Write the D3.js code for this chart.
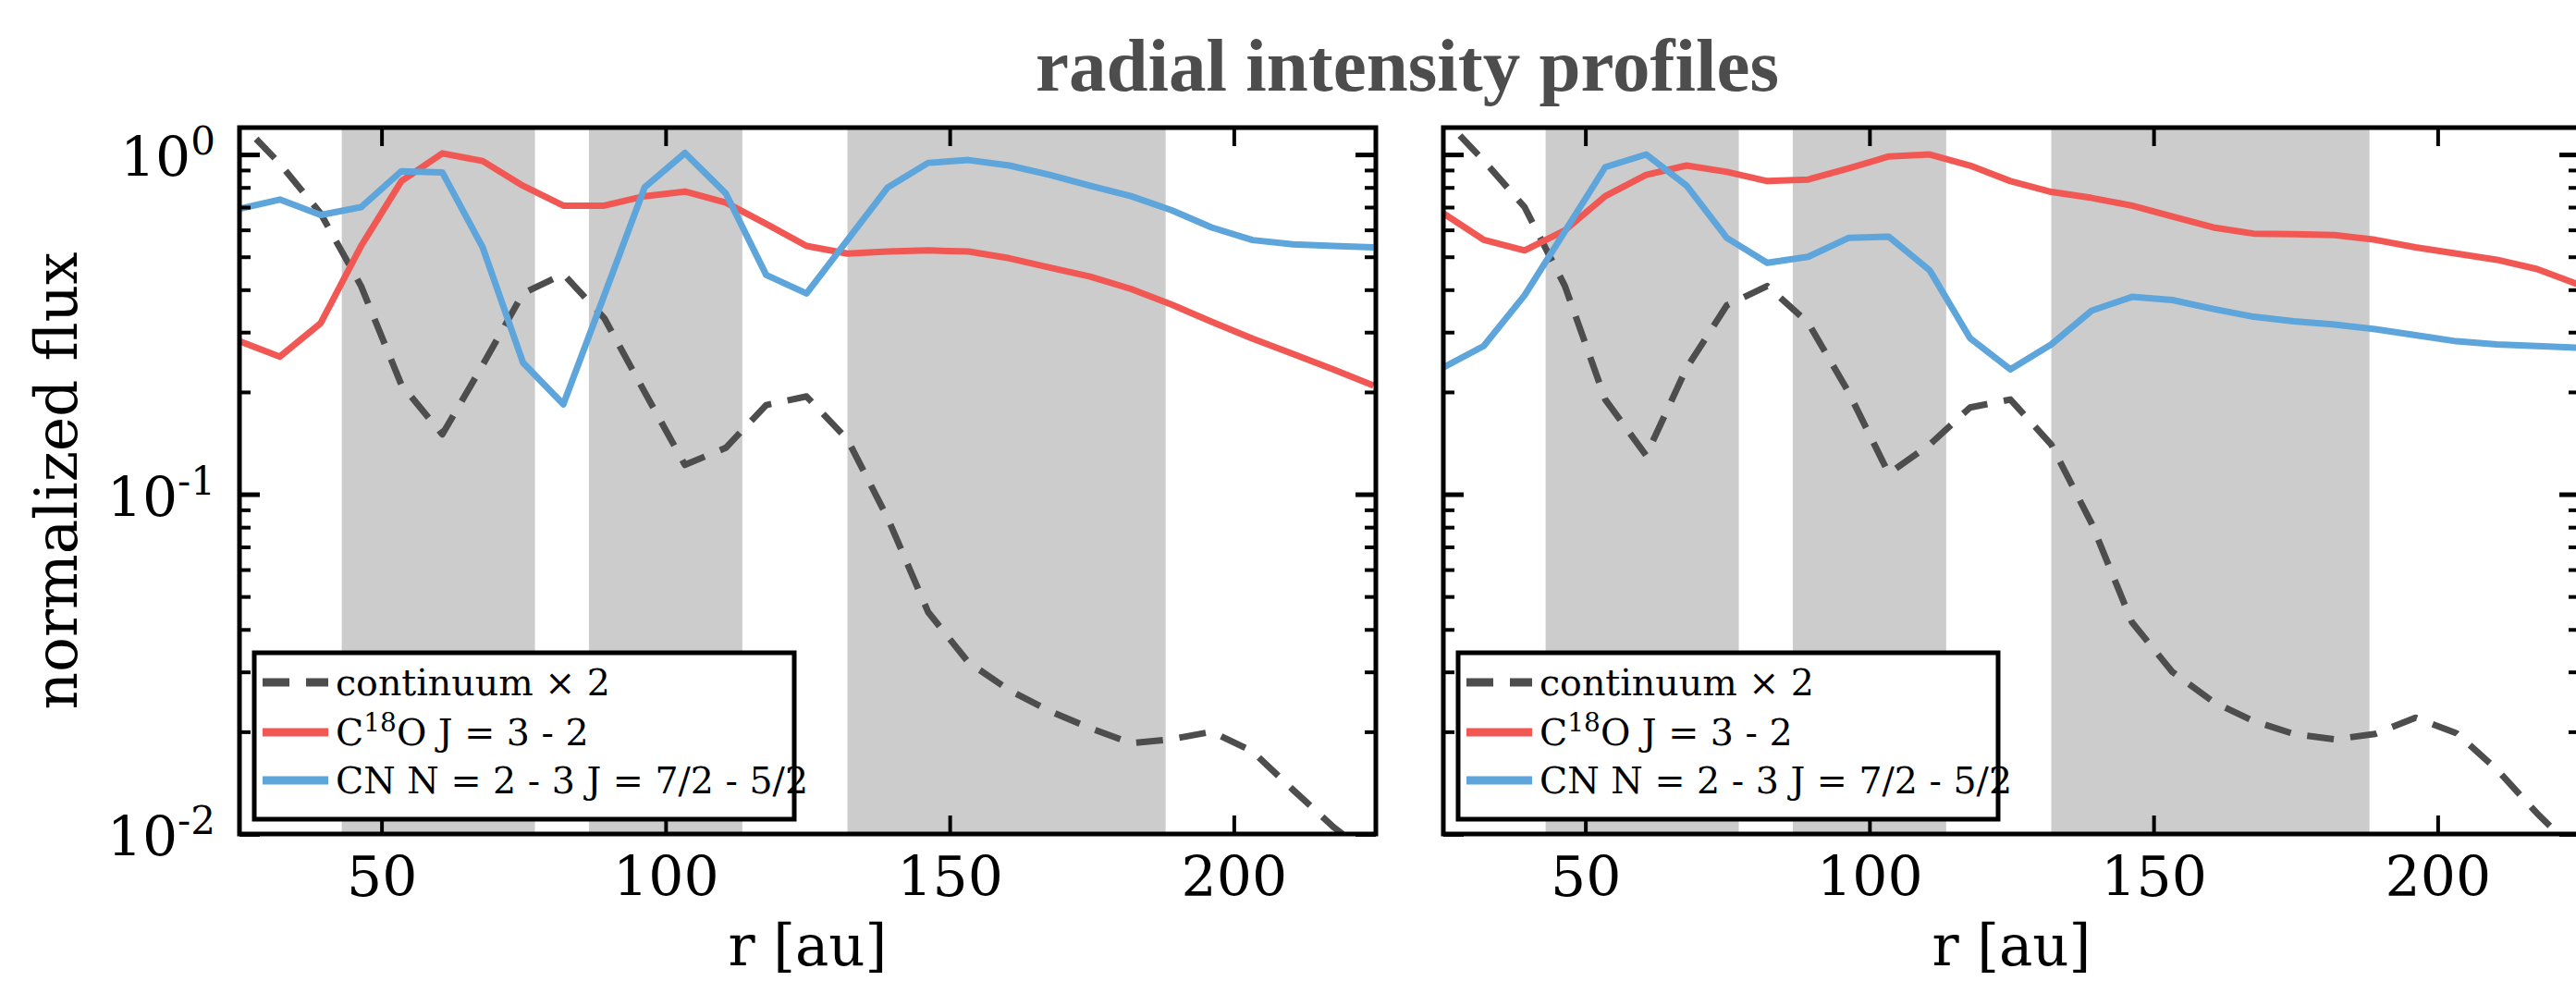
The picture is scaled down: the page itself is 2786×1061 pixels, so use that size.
<!DOCTYPE html>
<html>
<head>
<meta charset="utf-8">
<script src="https://cdn.jsdelivr.net/npm/d3@7"></script>
<style>
  body { margin: 0; background: #fff; }
  text { font-family: "DejaVu Serif", serif; }
</style>
</head>
<body>
<div id="chart-area"></div>
<script>
// radius of each sample [au]
var radius = [25.0, 32.1, 39.3, 46.4, 53.5, 60.7, 67.8, 74.9, 82.0, 89.2, 96.3, 103.4, 110.6, 117.7, 124.8,
              132.0, 139.1, 146.2, 153.3, 160.5, 167.6, 174.7, 181.9, 189.0, 196.1, 203.3, 210.4, 217.5, 224.6];

// left panel
var leftContinuum = [1.25, 0.94, 0.67, 0.41, 0.21, 0.15, 0.24, 0.39, 0.445, 0.33, 0.2, 0.122, 0.137, 0.183, 0.194,
                     0.145, 0.085, 0.045, 0.032, 0.0265, 0.023, 0.0205, 0.0185, 0.019, 0.02, 0.0175, 0.0135, 0.0105, 0.0085];
var leftC18O = [0.282, 0.254, 0.319, 0.538, 0.835, 1.008, 0.957, 0.809, 0.707, 0.707, 0.754, 0.778, 0.722, 0.625, 0.538,
                0.511, 0.518, 0.522, 0.518, 0.495, 0.465, 0.437, 0.402, 0.362, 0.322, 0.287, 0.259, 0.233, 0.209];
var leftCN = [0.692, 0.737, 0.664, 0.70, 0.893, 0.886, 0.533, 0.244, 0.184, 0.385, 0.80, 1.01, 0.768, 0.442, 0.39,
              0.56, 0.80, 0.945, 0.963, 0.928, 0.871, 0.809, 0.754, 0.686, 0.61, 0.56, 0.544, 0.538, 0.533];

// right panel
var rightContinuum = [1.28, 0.96, 0.70, 0.41, 0.19, 0.13, 0.235, 0.36, 0.41, 0.32, 0.2, 0.115, 0.14, 0.18, 0.19,
                      0.14, 0.082, 0.042, 0.03, 0.0245, 0.0215, 0.0197, 0.019, 0.0197, 0.022, 0.0198, 0.0155, 0.0115, 0.0088];
var rightC18O = [0.671, 0.561, 0.522, 0.598, 0.754, 0.871, 0.928, 0.889, 0.835, 0.844, 0.91, 0.987, 1.0, 0.928, 0.835,
                 0.776, 0.745, 0.707, 0.657, 0.61, 0.585, 0.583, 0.579, 0.561, 0.533, 0.511, 0.49, 0.46, 0.415];
var rightCN = [0.236, 0.273, 0.385, 0.594, 0.918, 1.0, 0.81, 0.568, 0.48, 0.50, 0.568, 0.573, 0.456, 0.288, 0.233,
               0.276, 0.347, 0.381, 0.373, 0.351, 0.333, 0.323, 0.316, 0.306, 0.294, 0.282, 0.276, 0.273, 0.27];

// gaps (shaded radial ranges) [au]
var gapStart = [43, 86.5, 132];
var gapEnd = [77, 113.5, 188];

var xTicks = [50, 100, 150, 200];
var yMajor = [0.01, 0.1, 1];
var yMinor = [0.02, 0.03, 0.04, 0.05, 0.06, 0.07, 0.08, 0.09, 0.2, 0.3, 0.4, 0.5, 0.6, 0.7, 0.8, 0.9];
var yExp = ["-2", "-1", "0"];

var seriesNames = ["continuum", "C18O", "CN"];

var width = 2786, height = 1061;
var pw = 1229, top0 = 138, bot0 = 902;

var svg = d3.select("#chart-area").append("svg")
  .attr("width", width).attr("height", height);

svg.append("text")
  .attr("x", 1522).attr("y", 98)
  .attr("text-anchor", "middle")
  .style("font-family", "'Liberation Serif', serif")
  .style("font-weight", "bold")
  .style("font-size", "81px")
  .attr("fill", "#4d4d4d")
  .text("radial intensity profiles");

function drawPanel(x0, cont, c18o, cn, showY, id) {
  var x = d3.scaleLinear().domain([25, 225]).range([x0, x0 + pw]);
  var y = d3.scaleLog().domain([0.01, 1.2]).range([bot0, top0]);

  svg.append("clipPath").attr("id", "clip" + id)
    .append("rect").attr("x", x0).attr("y", top0).attr("width", pw).attr("height", bot0 - top0);

  var g = svg.append("g");
  var pg = g.append("g").attr("clip-path", "url(#clip" + id + ")");

  pg.selectAll(".gap").data(gapStart).enter().append("rect")
    .attr("x", function(d) { return x(d); })
    .attr("y", top0)
    .attr("width", function(d, i) { return x(gapEnd[i]) - x(d); })
    .attr("height", bot0 - top0)
    .attr("fill", "#cccccc");

  var line = d3.line()
    .x(function(d, i) { return x(radius[i]); })
    .y(function(d) { return y(d); });

  pg.append("path").attr("d", line(cont))
    .attr("fill", "none").attr("stroke", "#4d4d4d").attr("stroke-width", 7)
    .attr("stroke-dasharray", "29,18").attr("stroke-dashoffset", 21)
    .attr("stroke-linejoin", "round");
  pg.append("path").attr("d", line(c18o))
    .attr("fill", "none").attr("stroke", "#F15854").attr("stroke-width", 7)
    .attr("stroke-linejoin", "round");
  pg.append("path").attr("d", line(cn))
    .attr("fill", "none").attr("stroke", "#5DA5DA").attr("stroke-width", 7)
    .attr("stroke-linejoin", "round");

  // ticks, all pointing inwards
  function styleAxis(sel, w) {
    sel.select(".domain").remove();
    sel.selectAll(".tick line").attr("stroke", "#000").attr("stroke-width", w);
  }
  var bx = g.append("g").attr("transform", "translate(0," + bot0 + ")")
    .call(d3.axisBottom(x).tickValues(xTicks).tickSize(-20).tickPadding(24));
  styleAxis(bx, 4);
  bx.selectAll("text").style("font-family", "'DejaVu Serif', serif").style("font-size", "60px").attr("fill", "#000");

  var tx = g.append("g").attr("transform", "translate(0," + top0 + ")")
    .call(d3.axisTop(x).tickValues(xTicks).tickSize(-20).tickFormat(""));
  styleAxis(tx, 4);

  [[d3.axisLeft, x0, -22], [d3.axisRight, x0 + pw, -22]].forEach(function(a) {
    var maj = g.append("g").attr("transform", "translate(" + a[1] + ",0)")
      .call(a[0](y).tickValues(yMajor).tickSize(a[2]).tickFormat(""));
    styleAxis(maj, 5);
    var mnr = g.append("g").attr("transform", "translate(" + a[1] + ",0)")
      .call(a[0](y).tickValues(yMinor).tickSize(-12).tickFormat(""));
    styleAxis(mnr, 4);
  });

  if (showY) {
    var lab = g.selectAll(".ylab").data(yMajor).enter().append("text")
      .attr("x", x0 - 26)
      .attr("y", function(d) { return y(d) + 24; })
      .attr("text-anchor", "end")
      .style("font-size", "60px");
    lab.append("tspan").text("10");
    lab.append("tspan").attr("dy", -24).style("font-size", "42px")
      .text(function(d, i) { return yExp[i]; });
  }

  // frame
  g.append("rect").attr("x", x0).attr("y", top0).attr("width", pw).attr("height", bot0 - top0)
    .attr("fill", "none").attr("stroke", "#000").attr("stroke-width", 5);

  g.append("text").attr("x", x0 + pw / 2).attr("y", 1044)
    .attr("text-anchor", "middle").style("font-size", "61px").text("r [au]");

  // legend
  var lg = g.append("g").attr("transform", "translate(" + (x0 + 16) + ",706)");
  lg.append("rect").attr("width", 584).attr("height", 180)
    .attr("fill", "#fff").attr("stroke", "#000").attr("stroke-width", 5);
  var rows = [32, 86, 138];
  var colors = ["#4d4d4d", "#F15854", "#5DA5DA"];
  seriesNames.forEach(function(s, i) {
    lg.append("line").attr("x1", 9).attr("x2", 80).attr("y1", rows[i]).attr("y2", rows[i])
      .attr("stroke", colors[i]).attr("stroke-width", 9)
      .attr("stroke-dasharray", i === 0 ? "29,18" : null);
    var t = lg.append("text").attr("x", 88).attr("y", rows[i]).attr("dy", "0.35em")
      .style("font-size", "39.5px");
    if (s === "continuum") {
      t.text("continuum \u00d7 2");
    } else if (s === "C18O") {
      t.append("tspan").text("C");
      t.append("tspan").attr("dy", -15).style("font-size", "28px").text("18");
      t.append("tspan").attr("dy", 15).text("O J = 3 - 2");
    } else {
      t.text("CN N = 2 - 3 J = 7/2 - 5/2");
    }
  });
}

drawPanel(259, leftContinuum, leftC18O, leftCN, true, "L");
drawPanel(1561, rightContinuum, rightC18O, rightCN, false, "R");

svg.append("text")
  .attr("transform", "translate(83,520) rotate(-90)")
  .attr("text-anchor", "middle")
  .style("font-size", "63px")
  .text("normalized flux");
</script>
</body>
</html>
